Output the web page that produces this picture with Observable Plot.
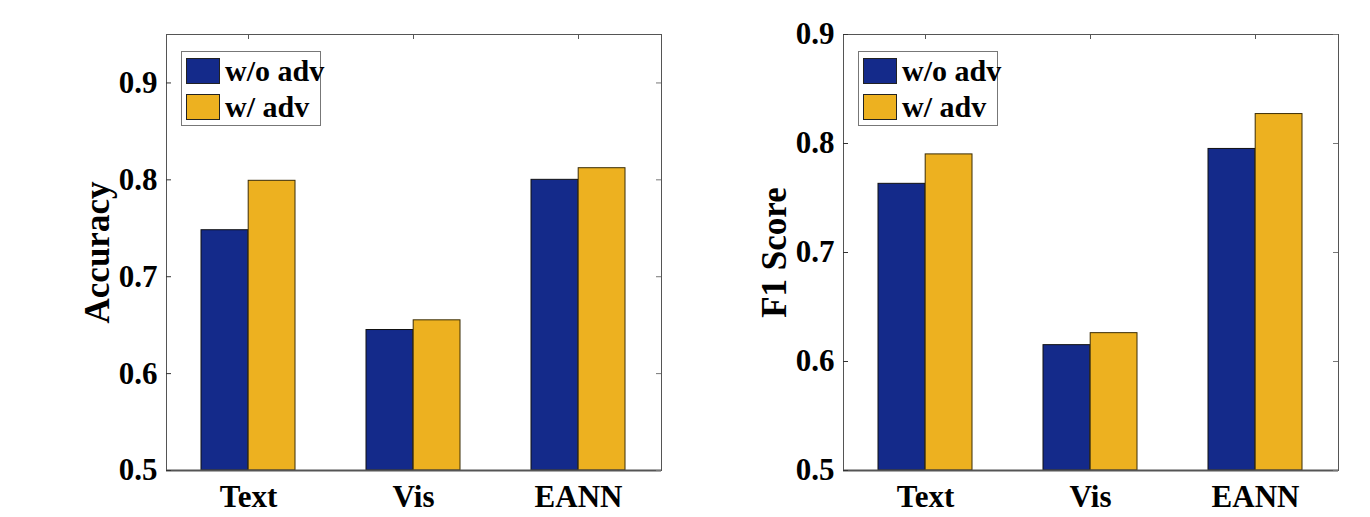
<!DOCTYPE html>
<html>
<head>
<meta charset="utf-8">
<script src="https://cdn.jsdelivr.net/npm/d3@7"></script>
<script src="https://cdn.jsdelivr.net/npm/@observablehq/plot@0.6"></script>
<style>
  html, body { margin: 0; padding: 0; background: #fff; }
  #wrap { display: flex; width: 1370px; height: 517px; }
  .panel { position: relative; width: 685px; height: 517px; }
  .legend {
    position: absolute; top: 51px; width: 138px; height: 73px;
    border: 1px solid #777; background: #fff;
    font-family: "Liberation Serif", "Times New Roman", serif; font-weight: bold; font-size: 30px;
    color: #000;
  }
  .legend .row { position: absolute; left: 4px; height: 28px; display: flex; align-items: center; }
  .legend .sw { width: 34px; height: 26px; border: 1px solid #222; box-sizing: border-box; margin-right: 5px; }
  .legend .lab { line-height: 28px; white-space: nowrap; }
</style>
</head>
<body>
<div id="wrap"></div>
<script>
// ---- data ----
const categories = ["Text", "Vis", "EANN"];
const seriesNames = ["w/o adv", "w/ adv"];
const accWithout = [0.748, 0.645, 0.800];
const accWith    = [0.799, 0.655, 0.812];
const f1Without  = [0.763, 0.615, 0.795];
const f1With     = [0.790, 0.626, 0.827];
const accTicks = [0.5, 0.6, 0.7, 0.8, 0.9];
const f1Ticks  = [0.5, 0.6, 0.7, 0.8, 0.9];
const accDomain = [0.5, 0.95];
const f1Domain  = [0.5, 0.9];
const seriesColors = ["#142A8A", "#EDB120"];

// ---- layout ----
const W = 685, H = 517;
const plotW = 495, plotH = 436;
const padInner = 0.428, padOuter = 0.214;
const step = plotW / (categories.length - padInner + 2 * padOuter);
const half = step * (1 - padInner) / 2;
const tickLen = 5;
const fontStyle = {fontFamily: "'Liberation Serif', 'Times New Roman', serif", fontWeight: "bold", fontSize: "31px", background: "#fff", color: "#000", overflow: "visible"};

function panel(label, without, withv, domain, ticks, marginLeft, marginRight, legendLeft) {
  const rows = categories.map((c, i) => ({cat: c, a: without[i], b: withv[i]}));
  const chart = Plot.plot({
    width: W, height: H,
    marginLeft, marginRight, marginTop: 34, marginBottom: 47,
    style: fontStyle,
    x: {domain: categories, paddingInner: padInner, paddingOuter: padOuter, tickSize: 0, tickPadding: 14, label: null},
    y: {domain, ticks, tickSize: 0, tickPadding: 9, tickFormat: d3.format(".1f"), label, labelArrow: "none", labelAnchor: "center", labelOffset: 82},
    marks: [
      Plot.barY(rows, {x: "cat", y1: () => domain[0], y2: "a", fill: seriesColors[0], stroke: "#111", strokeWidth: 1, insetRight: half}),
      Plot.barY(rows, {x: "cat", y1: () => domain[0], y2: "b", fill: seriesColors[1], stroke: "#3a2c05", strokeWidth: 1, insetLeft: half}),
      Plot.frame({stroke: "#555", strokeWidth: 1}),
      Plot.ruleY([domain[0]], {stroke: "#555", strokeWidth: 2}),
      Plot.tickY(ticks, {y: d => d, stroke: "#333", insetRight: plotW - tickLen}),
      Plot.tickY(ticks, {y: d => d, stroke: "#777", insetLeft: plotW - tickLen}),
      Plot.tickX(categories, {x: d => d, stroke: "#555", insetBottom: plotH - tickLen})
    ]
  });
  // y-axis label: larger, and strip any arrow
  d3.select(chart).selectAll('[aria-label="y-axis label"] text, [aria-label="y-axis label"]')
    .filter(function() { return this.tagName === "text"; })
    .style("font-size", "35px")
    .text(function() { return this.textContent.replace(/\s*[↑→↓←]\s*/g, ""); });
  const div = document.createElement("div");
  div.className = "panel";
  div.appendChild(chart);
  const leg = document.createElement("div");
  leg.className = "legend";
  leg.style.left = legendLeft + "px";
  seriesNames.forEach((s, i) => {
    const r = document.createElement("div");
    r.className = "row";
    r.style.top = (5 + i * 35.5) + "px";
    const sw = document.createElement("div");
    sw.className = "sw";
    sw.style.background = seriesColors[i];
    const lab = document.createElement("span");
    lab.className = "lab";
    lab.textContent = s;
    r.appendChild(sw); r.appendChild(lab);
    leg.appendChild(r);
  });
  div.appendChild(leg);
  return div;
}

const wrap = document.getElementById("wrap");
wrap.appendChild(panel("Accuracy", accWithout, accWith, accDomain, accTicks, 166, 24, 181));
wrap.appendChild(panel("F1 Score", f1Without, f1With, f1Domain, f1Ticks, 158, 32, 173));
</script>
</body>
</html>
